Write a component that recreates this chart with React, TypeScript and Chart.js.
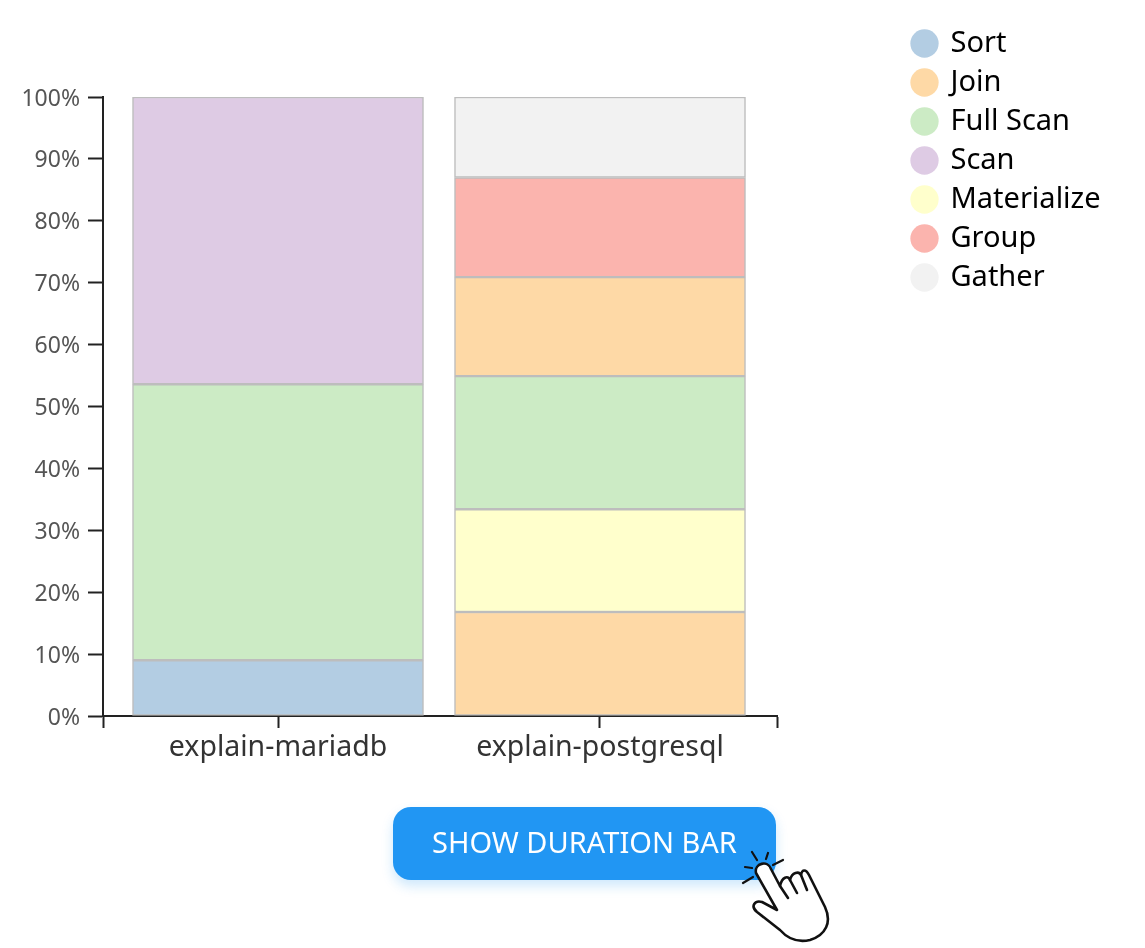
import React, { useEffect, useRef } from "react";
import { Chart, registerables } from "chart.js";

Chart.register(...registerables);

const categories = ["explain-mariadb", "explain-postgresql"];
const categoryPositions = [1, 2];
const legendOrder = ["Sort", "Join", "Full Scan", "Scan", "Materialize", "Group", "Gather"];

// Stacking order, bottom to top
const seriesNames = ["Sort", "Join", "Materialize", "Full Scan", "Scan", "Join", "Group", "Gather"];
const sortValues = [9.0, 0];
const joinLowerValues = [0, 16.8];
const materializeValues = [0, 16.6];
const fullScanValues = [44.6, 21.5];
const scanValues = [46.4, 0];
const joinUpperValues = [0, 16.0];
const groupValues = [0, 16.1];
const gatherValues = [0, 13.0];

const seriesColors = ["#b3cde3", "#fed9a6", "#ffffcc", "#ccebc5", "#decbe4", "#fed9a6", "#fbb4ae", "#f2f2f2"];
const hiddenLegendSeries = [5];

const FONT = '"Noto Sans", sans-serif';
const AXIS = "#222222";

const X_MIN = 1 - 175 / 322;
const X_MAX = 2 + 177 / 322;

const legendPlacement = {
  id: "legendPlacement",
  beforeLayout(chart: any) {
    const legend = chart.legend;
    if (legend && !legend.__wrapped) {
      const fit = legend.fit.bind(legend);
      legend.fit = () => {
        fit();
        legend.width = 368;
      };
      legend.__wrapped = true;
    }
  },
  afterLayout(chart: any) {
    const legend = chart.legend;
    const w = legend.width;
    const h = legend.height;
    legend.left = 903;
    legend.right = 903 + w;
    legend.top = 19;
    legend.bottom = 19 + h;
  },
};

export default function App() {
  const ref = useRef<HTMLCanvasElement>(null);

  useEffect(() => {
    const allValues = [
      sortValues,
      joinLowerValues,
      materializeValues,
      fullScanValues,
      scanValues,
      joinUpperValues,
      groupValues,
      gatherValues,
    ];
    const chart = new Chart(ref.current!, {
      type: "bar",
      data: {
        datasets: seriesNames.map((name, i) => ({
          label: name,
          data: allValues[i]
            .map((v, c) => ({ x: categoryPositions[c], y: v }))
            .filter((p) => p.y > 0),
          backgroundColor: seriesColors[i],
          borderColor: "#bdbdbd",
          borderWidth: 1.5,
          borderSkipped: false,
          barThickness: 291,
        })),
      } as any,
      plugins: [legendPlacement],
      options: {
        responsive: false,
        animation: false,
        layout: { padding: { top: 97, left: 0, right: 0, bottom: 0 } },
        plugins: {
          tooltip: { enabled: false },
          legend: {
            position: "right",
            align: "start",
            labels: {
              usePointStyle: true,
              pointStyle: "circle",
              boxWidth: 23,
              boxHeight: 20,
              padding: 10,
              color: "#222222",
              font: { family: FONT, size: 29 },
              filter: (item: any) => !hiddenLegendSeries.includes(item.datasetIndex),
              sort: (a: any, b: any) => legendOrder.indexOf(a.text) - legendOrder.indexOf(b.text),
              generateLabels: (c: any) =>
                c.data.datasets.map((d: any, i: number) => ({
                  text: d.label,
                  datasetIndex: i,
                  fillStyle: d.backgroundColor,
                  strokeStyle: d.backgroundColor,
                  lineWidth: 0,
                  pointStyle: "circle",
                  hidden: false,
                })),
            },
          },
        },
        scales: {
          x: {
            type: "linear",
            stacked: true,
            offset: false,
            min: X_MIN,
            max: X_MAX,
            afterFit: (s: any) => {
              s.height = 232;
            },
            afterBuildTicks: (s: any) => {
              s.ticks = [X_MIN, ...categoryPositions, X_MAX].map((value) => ({ value }));
            },
            border: { color: AXIS, width: 2 },
            grid: { offset: false, drawOnChartArea: false, tickLength: 12, tickWidth: 2, tickColor: AXIS },
            ticks: {
              autoSkip: false,
              maxRotation: 0,
              padding: 3,
              color: "#333333",
              font: { family: FONT, size: 28.5 },
              callback: (v: any) => categories[categoryPositions.indexOf(v)] ?? "",
            },
          },
          y: {
            stacked: true,
            min: 0,
            max: 100,
            afterFit: (s: any) => {
              s.width = 103;
            },
            border: { color: AXIS, width: 2 },
            grid: { drawOnChartArea: false, tickLength: 15, tickWidth: 2, tickColor: AXIS },
            ticks: {
              stepSize: 10,
              autoSkip: false,
              padding: 8,
              labelOffset: 2,
              color: "#555555",
              font: { family: FONT, size: 23 },
              callback: (v: any) => `${v}%`,
            },
          },
        },
      },
    } as any);
    return () => chart.destroy();
  }, []);

  return (
    <div style={{ position: "absolute", left: 0, top: 0, width: 1145, height: 948, overflow: "hidden" }}>
      <canvas ref={ref} width={1145} height={948} style={{ display: "block" }} />
      <button
        style={{
          position: "absolute",
          left: 393,
          top: 807,
          width: 383,
          height: 73,
          border: "none",
          borderRadius: 18,
          background: "#2196f3",
          color: "#ffffff",
          fontFamily: FONT,
          fontSize: 29,
          padding: "0 0 4px 0",
          boxShadow: "0 6px 12px rgba(33,150,243,0.22)",
        }}
      >
        SHOW DURATION BAR
      </button>
      <svg
        width={1145}
        height={948}
        style={{ position: "absolute", left: 0, top: 0, pointerEvents: "none" }}
        fill="none"
        stroke="#111111"
        strokeWidth={2.6}
        strokeLinecap="round"
        strokeLinejoin="round"
      >
        <path
          fill="#ffffff"
          d="M756 873 C754 863 768 860 771 869 L780 886 C782 877 788 875 790 880 C792 872 799 871 801 875 C802 869 806 869 809 875 L825 907 C832 922 826 935 810 940 C797 943 788 939 780 930 L757 912 C750 906 755 900 762 902 L777 910 Z"
        />
        <path d="M780 886 L788 898 M790 880 L797 893 M801 875 L807 890" />
        <path d="M752 852 L757 860 M768 853 L766 859 M783 860 L773 865 M745 867 L752 868 M743 883 L753 877" strokeWidth={2.2} />
      </svg>
    </div>
  );
}
